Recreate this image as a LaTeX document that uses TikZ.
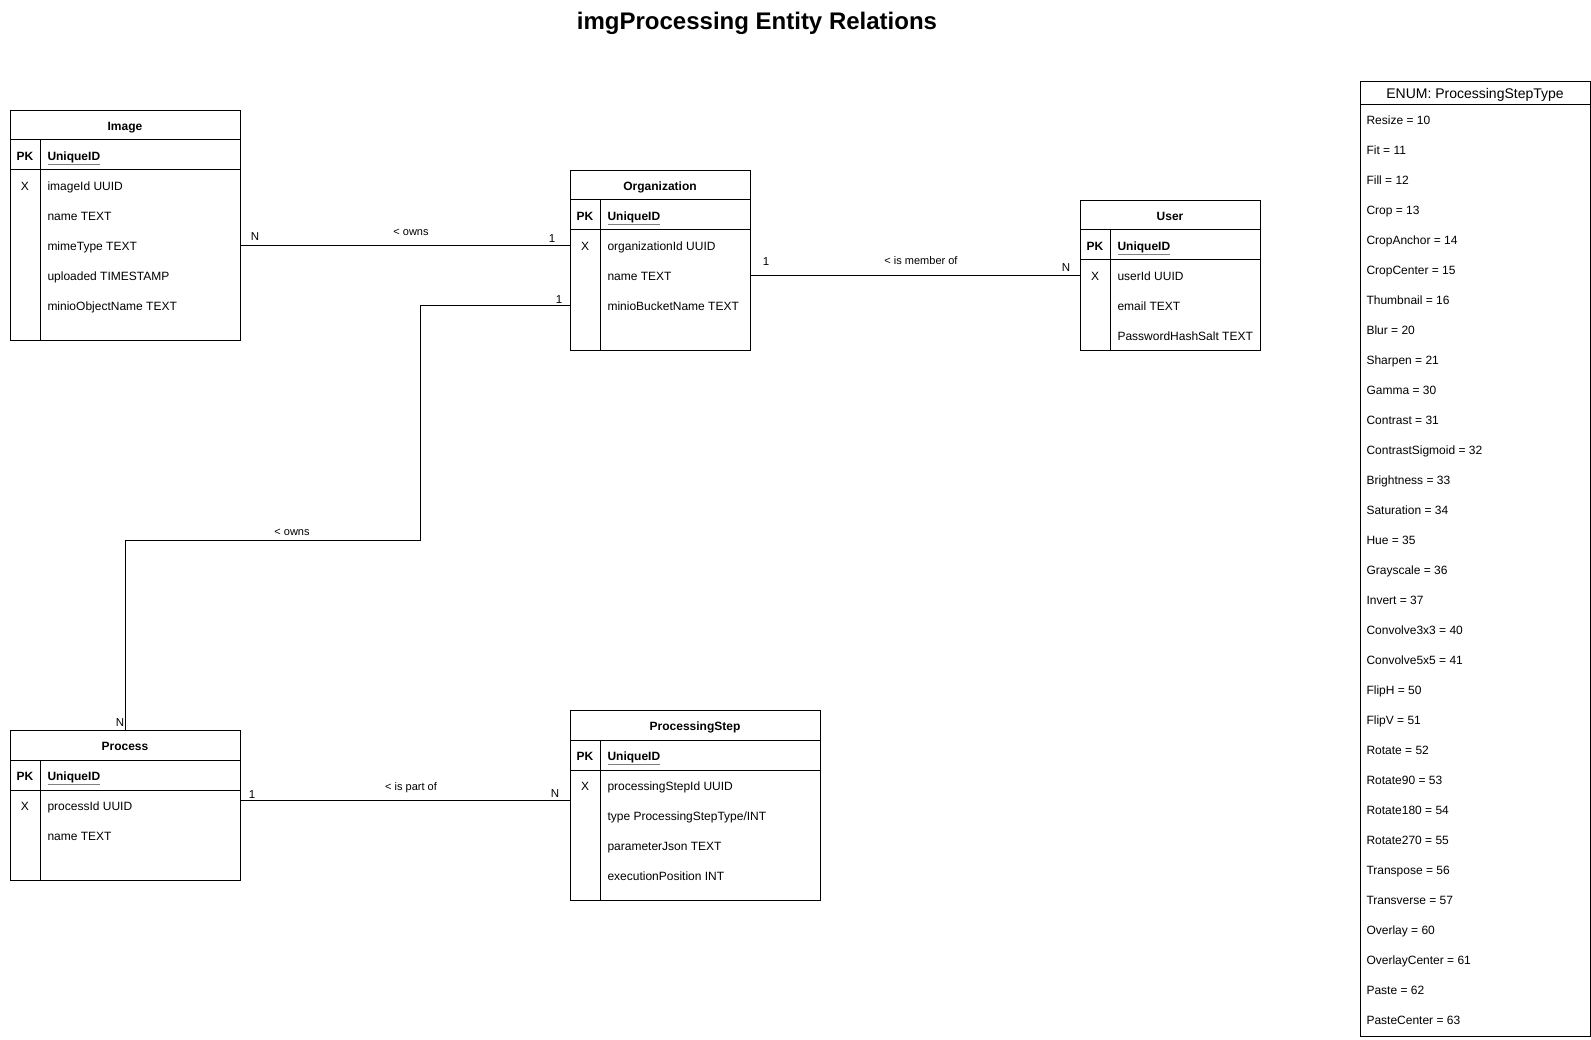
\documentclass[tikz,border=0pt]{standalone}
\usepackage{fontspec}
\usepackage{xcolor}
\setmainfont{Liberation Sans}
\begin{document}
\begin{tikzpicture}[x=1pt, y=-1pt, line width=1pt,
  tbl/.style={draw, anchor=north west, inner sep=0pt},
  ttl/.style={inner sep=0pt, yshift=-1pt, text height=8.6pt, text depth=0pt, font=\bfseries\fontsize{12}{14}\selectfont},
  key/.style={inner sep=0pt, yshift=-1pt, text height=8.6pt, text depth=0pt, font=\fontsize{12}{14}\selectfont},
  fld/.style={key, anchor=west},
  enm/.style={inner sep=0pt, anchor=west, text height=8.6pt, text depth=0pt, font=\fontsize{12}{14}\selectfont},
  card/.style={inner sep=0pt, text height=8pt, text depth=0pt, font=\fontsize{11.5}{13}\selectfont},
  rel/.style={inner sep=0pt, text height=7.9pt, text depth=0pt, font=\fontsize{11}{13}\selectfont}]
\useasboundingbox (0,0) rectangle (1591,1040);
\node[inner sep=0pt, text height=17.2pt, text depth=0pt, font=\bfseries\fontsize{24}{28}\selectfont] (title) at (757,21) {imgProcessing Entity Relations};

\node[tbl, minimum width=230pt, minimum height=230pt] (image) at (10,110) {};
\draw (10,140) -- (240,140);
\draw (10,170) -- (240,170);
\draw (40,140) -- (40,340);
\node[ttl] (imgtitle) at (125,125) {Image};
\node[ttl] (imgpk) at (25,155) {PK};
\node[ttl, anchor=west] (imguid) at (47,155) {{\color{gray}\underline{\color{black}UniqueID}}};
\node[key] (imgx) at (25,185) {X};
\node[fld] (imgid) at (47,185) {imageId UUID};
\node[fld] (imgname) at (47,215) {name TEXT};
\node[fld] (imgmime) at (47,245) {mimeType TEXT};
\node[fld] (imgup) at (47,275) {uploaded TIMESTAMP};
\node[fld] (imgobj) at (47,305) {minioObjectName TEXT};

\node[tbl, minimum width=180pt, minimum height=180pt] (org) at (570,170) {};
\draw (570,200) -- (750,200);
\draw (570,230) -- (750,230);
\draw (600,200) -- (600,350);
\node[ttl] (orgtitle) at (660,185) {Organization};
\node[ttl] (orgpk) at (585,215) {PK};
\node[ttl, anchor=west] (orguid) at (607,215) {{\color{gray}\underline{\color{black}UniqueID}}};
\node[key] (orgx) at (585,245) {X};
\node[fld] (orgid) at (607,245) {organizationId UUID};
\node[fld] (orgname) at (607,275) {name TEXT};
\node[fld] (orgbucket) at (607,305) {minioBucketName TEXT};

\node[tbl, minimum width=180pt, minimum height=150pt] (user) at (1080,200) {};
\draw (1080,230) -- (1260,230);
\draw (1080,260) -- (1260,260);
\draw (1110,230) -- (1110,350);
\node[ttl] (usrtitle) at (1170,215) {User};
\node[ttl] (usrpk) at (1095,245) {PK};
\node[ttl, anchor=west] (usruid) at (1117,245) {{\color{gray}\underline{\color{black}UniqueID}}};
\node[key] (usrx) at (1095,275) {X};
\node[fld] (usrid) at (1117,275) {userId UUID};
\node[fld] (usrmail) at (1117,305) {email TEXT};
\node[fld] (usrpass) at (1117,335) {PasswordHashSalt TEXT};

\node[tbl, minimum width=230pt, minimum height=150pt] (process) at (10,730) {};
\draw (10,760) -- (240,760);
\draw (10,790) -- (240,790);
\draw (40,760) -- (40,880);
\node[ttl] (prctitle) at (125,745) {Process};
\node[ttl] (prcpk) at (25,775) {PK};
\node[ttl, anchor=west] (prcuid) at (47,775) {{\color{gray}\underline{\color{black}UniqueID}}};
\node[key] (prcx) at (25,805) {X};
\node[fld] (prcid) at (47,805) {processId UUID};
\node[fld] (prcname) at (47,835) {name TEXT};

\node[tbl, minimum width=250pt, minimum height=190pt] (step) at (570,710) {};
\draw (570,740) -- (820,740);
\draw (570,770) -- (820,770);
\draw (600,740) -- (600,900);
\node[ttl] (steptitle) at (695,725) {ProcessingStep};
\node[ttl] (steppk) at (585,755) {PK};
\node[ttl, anchor=west] (stepuid) at (607,755) {{\color{gray}\underline{\color{black}UniqueID}}};
\node[key] (stepx) at (585,785) {X};
\node[fld] (stepid) at (607,785) {processingStepId UUID};
\node[fld] (steptype) at (607,815) {type ProcessingStepType/INT};
\node[fld] (stepparam) at (607,845) {parameterJson TEXT};
\node[fld] (steppos) at (607,875) {executionPosition INT};

\node[tbl, minimum width=230pt, minimum height=955pt] (enum) at (1360,81) {};
\draw (1360,105) -- (1590,105);
\node[inner sep=0pt, text height=10pt, text depth=0pt, font=\fontsize{14}{16}\selectfont] (enumtitle) at (1475,94) {ENUM: ProcessingStepType};
\node[enm] (en1) at (1366,120) {Resize = 10};
\node[enm] (en2) at (1366,150) {Fit = 11};
\node[enm] (en3) at (1366,180) {Fill = 12};
\node[enm] (en4) at (1366,210) {Crop = 13};
\node[enm] (en5) at (1366,240) {CropAnchor = 14};
\node[enm] (en6) at (1366,270) {CropCenter = 15};
\node[enm] (en7) at (1366,300) {Thumbnail = 16};
\node[enm] (en8) at (1366,330) {Blur = 20};
\node[enm] (en9) at (1366,360) {Sharpen = 21};
\node[enm] (en10) at (1366,390) {Gamma = 30};
\node[enm] (en11) at (1366,420) {Contrast = 31};
\node[enm] (en12) at (1366,450) {ContrastSigmoid = 32};
\node[enm] (en13) at (1366,480) {Brightness = 33};
\node[enm] (en14) at (1366,510) {Saturation = 34};
\node[enm] (en15) at (1366,540) {Hue = 35};
\node[enm] (en16) at (1366,570) {Grayscale = 36};
\node[enm] (en17) at (1366,600) {Invert = 37};
\node[enm] (en18) at (1366,630) {Convolve3x3 = 40};
\node[enm] (en19) at (1366,660) {Convolve5x5 = 41};
\node[enm] (en20) at (1366,690) {FlipH = 50};
\node[enm] (en21) at (1366,720) {FlipV = 51};
\node[enm] (en22) at (1366,750) {Rotate = 52};
\node[enm] (en23) at (1366,780) {Rotate90 = 53};
\node[enm] (en24) at (1366,810) {Rotate180 = 54};
\node[enm] (en25) at (1366,840) {Rotate270 = 55};
\node[enm] (en26) at (1366,870) {Transpose = 56};
\node[enm] (en27) at (1366,900) {Transverse = 57};
\node[enm] (en28) at (1366,930) {Overlay = 60};
\node[enm] (en29) at (1366,960) {OverlayCenter = 61};
\node[enm] (en30) at (1366,990) {Paste = 62};
\node[enm] (en31) at (1366,1020) {PasteCenter = 63};

\draw (image.east |- imgmime) -- (org.west |- orgid);
\node[card] (ownsn) at (255,237) {N};
\node[rel] (ownslbl) at (411,232) {< owns};
\node[card] (owns1) at (552,239) {1};

\draw (org.east |- orgname) -- (user.west |- usrid);
\node[card] (memb1) at (766,262) {1};
\node[rel] (memblbl) at (921,261) {< is member of};
\node[card] (membn) at (1066,268) {N};

\coordinate (ownbend) at (420,540);
\draw (org.west |- orgbucket) -| (ownbend) -| (process.north);
\node[card] (prcown1) at (559,300) {1};
\node[rel] (prcownlbl) at (292,532) {< owns};
\node[card] (prcownn) at (120,722) {N};

\draw ([yshift=5pt]process.east) -- ([yshift=5pt]step.west);
\node[card] (part1) at (252,794) {1};
\node[rel] (partlbl) at (411,787) {< is part of};
\node[card] (partn) at (555,793) {N};
\end{tikzpicture}
\end{document}
